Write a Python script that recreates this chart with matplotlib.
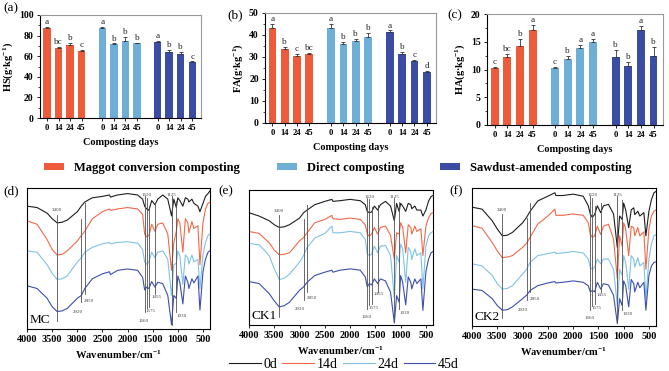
import matplotlib
matplotlib.use("Agg")
import matplotlib.pyplot as plt
from matplotlib.patches import Patch
from matplotlib.lines import Line2D
from matplotlib.ticker import MultipleLocator
import numpy as np

plt.rcParams['font.family'] = ['Liberation Serif', 'DejaVu Serif']
plt.rcParams['mathtext.default'] = 'regular'

# ---- bar data (g/kg) ----
days = ['0', '14', '24', '45']
groups = ['Maggot conversion composting', 'Direct composting', 'Sawdust-amended composting']
bar_colors = ['#EE5B3B', '#6DAFD6', '#3A4CA4']

hs_vals = [[87.5, 68.0, 70.5, 65.5], [87.5, 72.0, 74.5, 72.5], [74.0, 64.5, 62.5, 54.5]]
hs_err = [[1.0, 1.0, 2.5, 0.5], [1.0, 0.5, 4.0, 0.5], [1.0, 2.0, 1.5, 0.5]]
hs_sig = [['a', 'bc', 'b', 'c'], ['a', 'b', 'b', 'b'], ['a', 'b', 'b', 'c']]

fa_vals = [[43.0, 33.5, 30.3, 31.5], [43.0, 36.0, 37.5, 39.0], [41.3, 31.5, 28.2, 23.3]]
fa_err = [[2.0, 1.0, 1.0, 0.5], [2.0, 0.8, 0.8, 1.8], [0.8, 0.8, 0.6, 0.5]]
fa_sig = [['a', 'b', 'c', 'bc'], ['a', 'b', 'b', 'b'], ['a', 'b', 'c', 'd']]

ha_vals = [[10.3, 12.2, 14.3, 17.2], [10.3, 11.9, 13.9, 15.0], [12.3, 10.6, 17.1, 12.5]]
ha_err = [[0.2, 0.6, 1.2, 0.9], [0.2, 0.6, 0.5, 0.5], [1.3, 0.8, 0.7, 1.6]]
ha_sig = [['c', 'bc', 'b', 'a'], ['c', 'b', 'a', 'a'], ['b', 'b', 'a', 'b']]

# ---- FTIR spectra (relative height, % of panel) ----
wn = [4000, 3800, 3600, 3500, 3400, 3300, 3200, 3000, 2920, 2850, 2700, 2500, 2360, 2340,
      2200, 2000, 1800, 1700, 1660, 1620, 1575, 1520, 1455, 1400, 1300, 1200, 1125, 1080,
      1030, 1000, 960, 900, 850, 800, 780, 720, 680, 600, 560, 500, 450, 400, 360]

mc_0 = [88, 87, 83, 79, 76, 76.5, 78, 84, 88, 91, 94, 95, 96, 94.5, 96, 97, 96, 93, 88, 86, 85, 92,
        89, 93, 96, 93, 81, 93, 87, 94, 92, 88, 94, 93, 91, 93, 90, 88, 84, 90, 95, 97, 99]
mc_14 = [77.5, 75, 64, 57, 53, 53.5, 56, 63, 67, 70, 79, 84, 86, 85, 86, 87, 86, 82, 68, 66, 67, 75,
         70, 75, 76, 68, 42, 62, 70, 79, 76, 55, 79, 76, 69, 77, 72, 74, 46, 76, 86, 90, 91]
mc_24 = [56, 55, 46, 40, 35.5, 36, 38, 48, 51, 55, 58.5, 61, 62, 61, 62, 62.5, 61.5, 57, 48, 46.5, 48,
         55, 51, 55, 56, 50, 24, 46, 47, 56, 52.5, 32, 53, 51, 46.5, 53, 48, 50, 29, 53, 62, 67, 68]
mc_45 = [31, 29, 22, 16, 12.5, 13, 14.7, 22, 24, 29, 36, 39.5, 41, 39, 42, 43, 42, 37, 28, 30, 29, 34,
         30, 33.5, 32.5, 24, 3, 24, 22, 38, 33.5, 18, 38, 33.5, 29, 36, 33, 38, 13.5, 41, 50, 55, 56]

ck1_0 = [84, 81.5, 78, 75, 73, 73.5, 75, 80, 84, 86, 90, 92.5, 94, 92.5, 93, 94, 93, 90, 85, 84, 84.5,
         89, 86, 90, 92.5, 89, 78, 91, 85, 91, 89, 85, 91, 90, 87, 89, 86, 86, 81.5, 86, 92.5, 96, 97]
ck1_14 = [70, 68.5, 61.5, 56, 52.5, 53, 54, 63, 65.5, 69, 76.5, 79, 82, 79.5, 79, 80, 79, 75, 68, 66.5,
          68, 73, 68, 73, 74, 67, 49, 69, 68, 76.5, 73, 54, 75, 73, 68, 74, 70, 72, 52, 74, 80, 83.5, 84]
ck1_24 = [61, 60, 52, 42, 34, 35, 38, 47, 52, 58, 65, 68.5, 74, 69, 69, 70, 69, 64, 53, 52, 53, 59, 54,
          59, 59.5, 52, 20, 52, 47, 60.5, 57, 32, 58, 55, 49, 57, 52, 54, 27, 59, 66.5, 69, 70]
ck1_45 = [32.5, 31, 23.5, 18, 13.5, 14.5, 17, 26, 28.5, 32, 37, 39.5, 41, 39.5, 41, 42, 41, 36, 28.5,
          31, 30, 34.5, 31, 34.5, 33, 24.5, 1.5, 22, 17, 37, 32, 15, 36, 32, 27, 34.5, 31, 34.5, 11,
          40, 49, 54, 55]

ck2_0 = [87, 85.5, 77, 71, 66, 66.5, 68.5, 75.5, 79.5, 84, 91.5, 95, 97.5, 95.5, 95.5, 96.5, 95, 88,
         82, 79.5, 81.5, 88, 83, 88, 89, 82, 57.5, 80.5, 78, 90, 85, 72, 85, 86.5, 81.5, 84, 80.5, 83,
         66, 84, 92.5, 97.5, 98.5]
ck2_14 = [73.5, 71.5, 61, 55, 50, 50.5, 51.5, 57.5, 60.5, 65, 74.5, 80.5, 85.5, 81, 81, 82, 81, 75.5,
          67, 65, 66, 73, 67, 73, 74.5, 63.5, 34.5, 66, 58.5, 75.5, 71, 51.5, 73, 72, 66, 72, 66, 69,
          41.5, 71, 80.5, 84, 85]
ck2_24 = [45.5, 44, 37, 31, 27, 27.5, 29.5, 38, 41.5, 46.5, 51.5, 53, 54, 53, 53.5, 54.5, 53.5, 49, 43,
          41.5, 43, 49, 45.5, 49, 49, 41.5, 15, 41.5, 37, 51.5, 46.5, 27, 51.5, 49, 43, 50, 44, 46.5,
          20, 49, 60, 66, 67]
ck2_45 = [27, 26, 20, 15, 11.5, 12, 14, 20, 22.5, 26, 29.5, 31.5, 32.5, 31.5, 32, 33, 32, 29.5, 25, 26,
          25, 32, 27, 31, 30, 22.5, 1.7, 20, 15, 33, 29.5, 14, 34, 31, 25, 32, 28, 32, 11.5, 37, 44,
          46.5, 47]

day_labels = ['0d', '14d', '24d', '45d']
line_colors = ['#1e1e1e', '#F2694A', '#80C2E6', '#3C4FAF']

# marked bands: wavenumber, line bottom, line top, label y, label x
bands = [(3400, 6, 82, 85, 3400), (2920, 19, 79, 12, 2985), (2850, 25, 90, 20, 2760),
         (1660, 12, 95, 6, 1680), (1620, 15, 94, 96, 1620), (1575, 16, 88, 13, 1540),
         (1455, 25, 90, 23, 1430), (1125, 3, 95, 96, 1125), (1030, 12, 92, 9, 930)]

fig = plt.figure(figsize=(6.69, 3.71), dpi=100)


def bar_panel(rect, vals, errs, sigs, ylabel, ymax, ystep, tag, tag_xy):
    ax = fig.add_axes(rect)
    xs_all = []
    for g in range(3):
        xs = np.arange(4) + [0, 4.78, 9.55][g]
        xs_all.extend(xs)
        ax.bar(xs, vals[g], width=0.63, color=bar_colors[g], zorder=2)
        ax.errorbar(xs, vals[g], yerr=[np.zeros(4), errs[g]], fmt='none', ecolor='#333333',
                    elinewidth=0.6, capsize=1.5, capthick=0.6, zorder=3)
        for x, v, e, s in zip(xs, vals[g], errs[g], sigs[g]):
            ax.text(x, v + e + ymax * 0.008, s, ha='center', va='bottom', fontsize=6.6, color='#222222')
    ax.set_xlim(-0.6, 13.3)
    ax.set_ylim(0, ymax)
    ax.set_xticks(xs_all)
    ax.set_xticklabels(days * 3, fontsize=6.2, fontweight='bold')
    ax.yaxis.set_major_locator(MultipleLocator(ystep))
    ax.yaxis.set_minor_locator(MultipleLocator(ystep / 2))
    for lab in ax.get_yticklabels():
        lab.set_fontsize(7)
        lab.set_fontweight('bold')
    ax.tick_params(length=2.5, width=0.6, pad=2)
    ax.tick_params(which='minor', length=1.5, width=0.5)
    ax.set_ylabel(ylabel, fontsize=7.5, fontweight='bold', labelpad=3)
    ax.set_xlabel('Composting days', fontsize=7.4, fontweight='bold', labelpad=4)
    for side in ['top', 'right']:
        ax.spines[side].set_color('#9a9a9a')
        ax.spines[side].set_linewidth(0.8)
    for side in ['left', 'bottom']:
        ax.spines[side].set_linewidth(0.8)
    fig.text(tag_xy[0], tag_xy[1], tag, fontsize=9.5, ha='left', va='center')
    return ax


def ftir_panel(rect, curves, name, tag, tag_xy):
    ax = fig.add_axes(rect)
    for ys, c in zip(curves, line_colors):
        ax.plot(wn, ys, color=c, lw=0.8)
    for w, y0, y1, ly, lx in bands:
        ax.plot([w, w], [y0, y1], color='#505050', lw=0.6)
        ax.text(lx, ly, str(w), fontsize=3.6, color='#444444', ha='center', va='center')
    ax.set_xlim(4000, 360)
    ax.set_ylim(0, 101)
    ax.set_xticks(np.arange(4000, 499, -500))
    ax.set_yticks([])
    for lab in ax.get_xticklabels():
        lab.set_fontsize(7.4)
        lab.set_fontweight('bold')
    ax.tick_params(axis='x', length=2.5, width=0.6, pad=2)
    ax.set_xlabel('Wavenumber/cm$^{-1}$', fontsize=7.6, fontweight='bold', labelpad=3)
    for side in ax.spines.values():
        side.set_linewidth(0.8)
    ax.text(0.015, 0.02, name, transform=ax.transAxes, fontsize=9.5, ha='left', va='bottom')
    fig.text(tag_xy[0], tag_xy[1], tag, fontsize=9.5, ha='left', va='center')
    return ax


W, H = 669.0, 371.0


def rect(l, t, r, b):
    return [l / W, 1 - b / H, (r - l) / W, (b - t) / H]


bar_panel(rect(40, 15, 201, 118), hs_vals, hs_err, hs_sig, 'HS(g·kg$^{-1}$)', 100, 20, '(a)', (3 / W, 1 - 8 / H))
bar_panel(rect(265, 13, 436, 123), fa_vals, fa_err, fa_sig, 'FA(g·kg$^{-1}$)', 50, 10, '(b)', (227 / W, 1 - 15 / H))
bar_panel(rect(487, 14, 663, 125), ha_vals, ha_err, ha_sig, 'HA(g·kg$^{-1}$)', 20, 5, '(c)', (447 / W, 1 - 15 / H))

ftir_panel(rect(27, 188, 210, 329), [mc_0, mc_14, mc_24, mc_45], 'MC', '(d)', (3 / W, 1 - 191 / H))
ftir_panel(rect(249, 190, 433, 325), [ck1_0, ck1_14, ck1_24, ck1_45], 'CK1', '(e)', (218 / W, 1 - 191 / H))
ftir_panel(rect(472, 188, 656, 326), [ck2_0, ck2_14, ck2_24, ck2_45], 'CK2', '(f)', (449 / W, 1 - 191 / H))

group_handles = [Patch(facecolor=c, edgecolor='none') for c in bar_colors]
fig.legend(group_handles, groups, loc='center', bbox_to_anchor=(338 / W, 1 - 168 / H), ncol=3,
           frameon=False, prop={'size': 9, 'weight': 'bold'}, handlelength=1.6, handleheight=0.55,
           handletextpad=0.8, columnspacing=2.9, borderpad=0.1)

day_handles = [Line2D([], [], color=c, lw=0.8) for c in line_colors]
fig.legend(day_handles, day_labels, loc='center', bbox_to_anchor=(344 / W, 1 - 364 / H), ncol=4,
           frameon=False, prop={'size': 10}, handlelength=2.3, handletextpad=0.2,
           columnspacing=0.35, borderpad=0.1)

fig.savefig('out.png', dpi=100)
